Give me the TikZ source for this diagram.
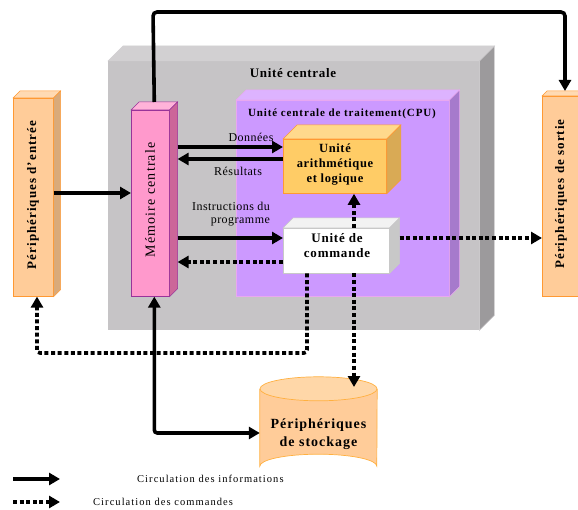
\documentclass[tikz,border=0pt]{standalone}
\usepackage{fontspec}
\setmainfont{Liberation Serif}
\usetikzlibrary{arrows.meta,calc}
\definecolor{ucfront}{HTML}{C6C4C6}
\definecolor{uctop}{HTML}{D2D0D2}
\definecolor{ucside}{HTML}{9C9A9C}
\definecolor{cpufront}{HTML}{CC99FF}
\definecolor{cputop}{HTML}{DDB3FF}
\definecolor{cpuside}{HTML}{A67ACC}
\definecolor{cpuborder}{HTML}{E8A8F0}
\definecolor{alufront}{HTML}{FFCC66}
\definecolor{alutop}{HTML}{FFD98C}
\definecolor{aluside}{HTML}{D9AA55}
\definecolor{orangeborder}{HTML}{FF9933}
\definecolor{cmdtop}{HTML}{F2F2F2}
\definecolor{cmdside}{HTML}{C8C8C8}
\definecolor{memfront}{HTML}{FF99CC}
\definecolor{memtop}{HTML}{FFB3D9}
\definecolor{memside}{HTML}{CC6699}
\definecolor{memborder}{HTML}{993399}
\definecolor{perfront}{HTML}{FFCC99}
\definecolor{pertop}{HTML}{FFDAB3}
\definecolor{perside}{HTML}{D9AA7A}
\definecolor{cyltop}{HTML}{FFD7A8}
\definecolor{cylborder}{HTML}{FFB040}
\tikzset{
  face/.style={inner sep=0pt, anchor=north west},
  tip/.style={-{Triangle[length=11pt,width=12pt]}},
  info/.style={line width=3.6pt, tip},
  infoboth/.style={line width=3.6pt, {Triangle[length=11pt,width=12pt]}-{Triangle[length=11pt,width=12pt]}},
  cmdline/.style={line width=3.6pt, dash pattern=on 4pt off 2.6pt, tip},
  lbl/.style={font=\fontsize{12}{13}\selectfont\addfontfeature{LetterSpace=4}, inner sep=0pt},
  vlbl/.style={rotate=90, font=\bfseries\fontsize{13}{15}\selectfont\addfontfeature{LetterSpace=8}},
  leglbl/.style={anchor=west, font=\fontsize{10.5}{12}\selectfont\addfontfeature{LetterSpace=10}, inner sep=0pt},
}
\newcommand{\extrude}[5]{% node, depth, top colour, side colour, border colour
  \filldraw[fill=#3, draw=#5, line width=0.5pt] (#1.north west) -- ++(#2,-#2) -- ($(#1.north east)+(#2,-#2)$) -- (#1.north east) -- cycle;
  \filldraw[fill=#4, draw=#5, line width=0.5pt] (#1.north east) -- ++(#2,-#2) -- ($(#1.south east)+(#2,-#2)$) -- (#1.south east) -- cycle;
}
\begin{document}
\begin{tikzpicture}[x=1pt,y=-1pt]
\useasboundingbox (0,0) rectangle (578,510);
\clip (0,0) rectangle (578,510);
% Unite centrale
\node[face, fill=ucfront, minimum width=371pt, minimum height=269pt] (uc) at (108,61) {};
\extrude{uc}{15}{uctop}{ucside}{uctop}
\node[font=\bfseries\fontsize{13}{15}\selectfont\addfontfeature{LetterSpace=5}] (uctxt) at (293,73) {Unité centrale};
% CPU
\node[face, fill=cpufront, draw=cpuborder, line width=0.6pt, minimum width=213pt, minimum height=196pt] (cpu) at (236,100) {};
\extrude{cpu}{10}{cputop}{cpuside}{cpuborder}
\node[font=\bfseries\fontsize{11}{13}\selectfont\addfontfeature{LetterSpace=8}] (cputxt) at (342,114) {Unité centrale de traitement(CPU)};
% ALU
\node[face, fill=alufront, draw=orangeborder, line width=0.8pt, minimum width=103pt, minimum height=54pt] (alu) at (283,139) {};
\extrude{alu}{14}{alutop}{aluside}{orangeborder}
\node[font=\bfseries\fontsize{12.5}{15}\selectfont\addfontfeature{LetterSpace=5}, align=center, inner sep=0pt] (alutxt) at (335,165) {Unité\\arithmétique\\et logique};
% Commande
\node[face, fill=white, draw=cmdside, line width=0.5pt, minimum width=106pt, minimum height=45pt] (cmd) at (283,228) {};
\extrude{cmd}{10}{cmdtop}{cmdside}{cmdside}
\node[font=\bfseries\fontsize{13}{15}\selectfont\addfontfeature{LetterSpace=6}, align=center, inner sep=0pt] (cmdtxt) at (337,246) {Unité de\\commande};
% Memoire centrale
\node[face, fill=memfront, draw=memborder, line width=0.6pt, minimum width=38pt, minimum height=186pt] (mem) at (131,110) {};
\extrude{mem}{8}{memtop}{memside}{memborder}
\node[rotate=90, font=\fontsize{14}{16}\selectfont\addfontfeature{LetterSpace=8}] (memtxt) at (150,200) {Mémoire centrale};
% Peripheriques d'entree
\node[face, fill=perfront, draw=orangeborder, line width=0.6pt, minimum width=40pt, minimum height=198pt] (pin) at (13,98) {};
\extrude{pin}{7}{pertop}{perside}{orangeborder}
\node[vlbl] (pintxt) at (33,195) {Périphériques d'entrée};
% Peripheriques de sortie
\node[face, fill=perfront, draw=orangeborder, line width=0.6pt, minimum width=42pt, minimum height=200pt] (pout) at (542,96) {};
\extrude{pout}{5}{pertop}{perside}{orangeborder}
\node[vlbl] (pouttxt) at (561,194) {Périphériques de sortie};
% Stockage (cylinder)
\node[inner sep=0pt, minimum width=117pt, minimum height=101pt] (sto) at (318.5,427.5) {};
\filldraw[fill=perfront, draw=cylborder, line width=0.7pt]
  ($(sto.north west)+(0,12)$) -- ($(sto.south west)+(0,-12)$)
  arc[start angle=180, end angle=360, x radius=58.5pt, y radius=-12pt]
  -- ($(sto.north east)+(0,12)$);
\filldraw[fill=cyltop, draw=cylborder, line width=0.7pt] ($(sto.north)+(0,12)$) ellipse[x radius=58.5pt, y radius=12pt];
\node[font=\bfseries\fontsize{14}{18}\selectfont\addfontfeature{LetterSpace=7}, align=center, inner sep=0pt] (stotxt) at (318.5,434) {Périphériques\\de stockage};
% helper coordinates on the node sides
\coordinate (memR) at ($(mem.east)+(8,0)$);
\coordinate (memT) at ($(mem.north)+(4,-8)$);
\coordinate (memB) at ($(mem.south)+(4,0)$);
\coordinate (cmdR) at ($(cmd.east)+(10,0)$);
\coordinate (poutT) at (565,91);
\coordinate (stoT) at (354,387);
% Connectors
\coordinate (topL) at (153,12);
\coordinate (topR) at (565,12);
\draw[line width=3.6pt, rounded corners=4pt, tip] (memT) -- (topL) -- (topR) -- (poutT);
\draw[info] (pin.east |- 0,193) -- (mem.west |- 0,193);
\draw[info] (memR |- 0,147) -- (alu.west |- 0,147);
\draw[info] (alu.west |- 0,159) -- (memR |- 0,159);
\draw[info] (memR |- 0,238) -- (cmd.west |- 0,238);
\draw[cmdline] (cmd.west |- 0,262) -- (memR |- 0,262);
\draw[cmdline] (cmd.north -| stoT) -- (alu.south -| stoT);
\draw[cmdline] (cmdR |- 0,238) -- (pout.west |- 0,238);
\draw[cmdline] (cmd.south -| stoT) -- (stoT);
\coordinate (cmdcorner) at (307,353);
\coordinate (incorner) at (37,353);
\draw[cmdline, rounded corners=3pt] (cmd.south -| cmdcorner) -- (cmdcorner) -- (incorner) -- (pin.south -| incorner);
\coordinate (stocorner) at (memB |- 0,433);
\draw[infoboth, rounded corners=3pt] (memB) -- (stocorner) -- (sto.west |- stocorner);
% Legend
\coordinate (l1a) at (13,479); \coordinate (l1b) at (60,479);
\coordinate (l2a) at (13,502); \coordinate (l2b) at (60,502);
\draw[info] (l1a) -- (l1b);
\draw[cmdline] (l2a) -- (l2b);
\node[leglbl] (leg1) at (137,479) {Circulation des informations};
\node[leglbl] (leg2) at (93,502) {Circulation des commandes};
% connector labels
\node[lbl] (ldon) at (251,137) {Données};
\node[lbl] (lres) at (238,171) {Résultats};
\node[lbl, align=right] (linst) at (231,214) {Instructions du\\programme};
\end{tikzpicture}
\end{document}
